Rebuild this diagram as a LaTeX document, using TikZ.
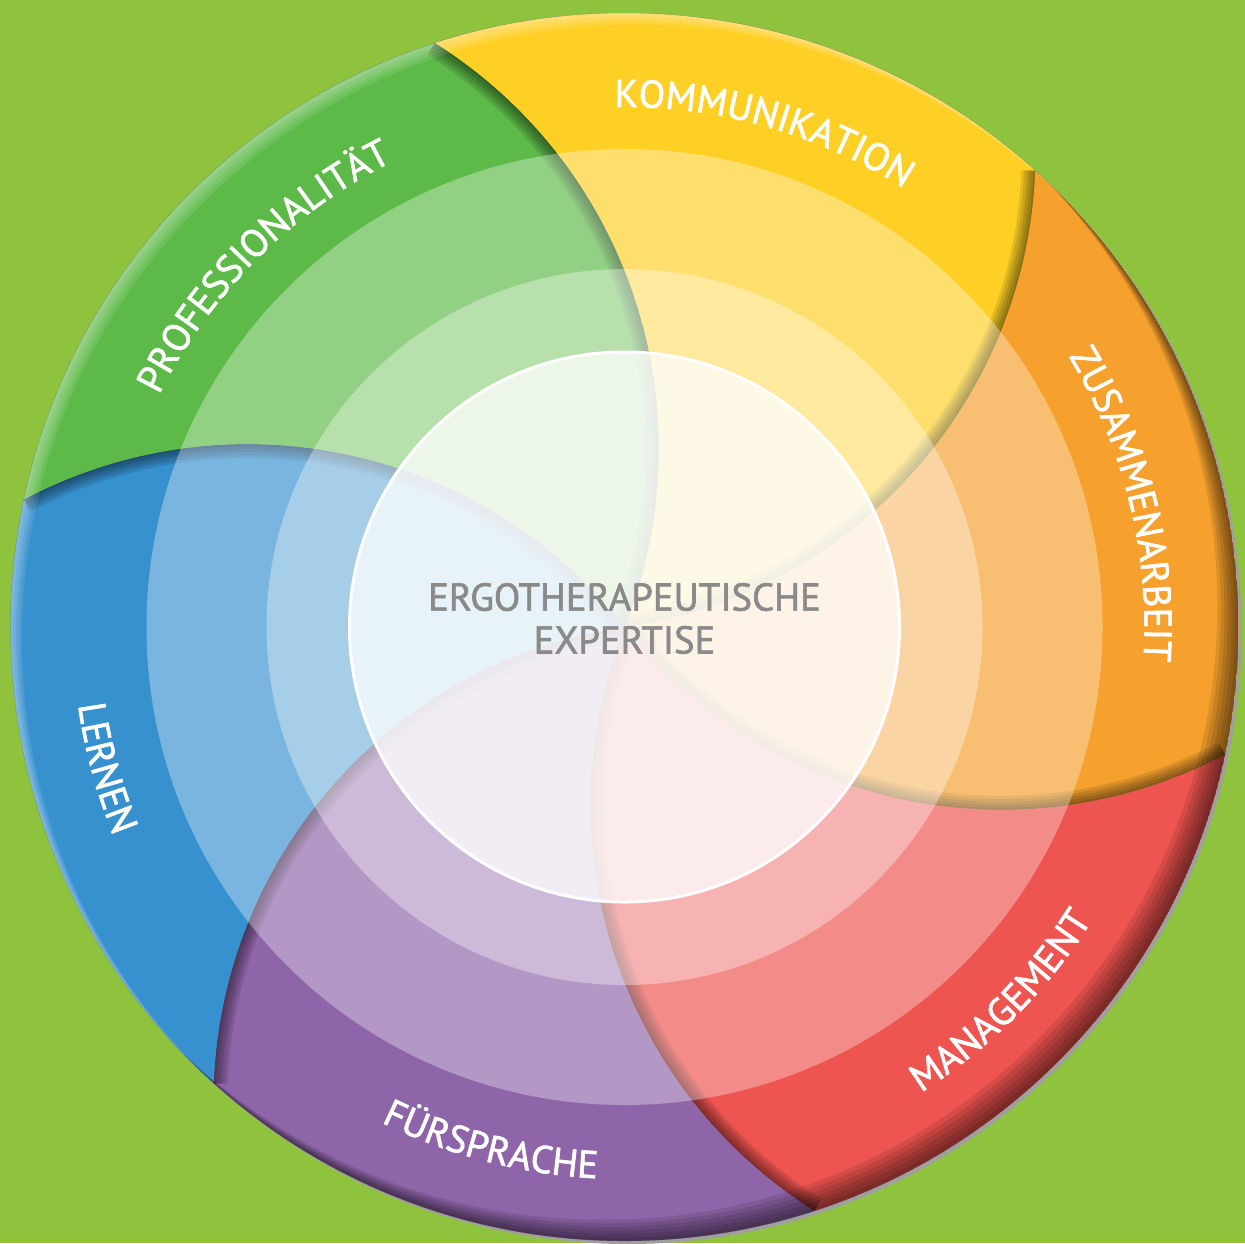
\documentclass[tikz,border=0pt]{standalone}
\usepackage{fontspec}
\setmainfont{PT Sans}
\newfontfamily\rimface{PT Sans}[FakeBold=1.6]
\usepackage{tikz}
\usetikzlibrary{decorations.text,calc}
\definecolor{etbg}{RGB}{143,195,62}
\definecolor{etgreen}{RGB}{93,186,72}
\definecolor{etyellow}{RGB}{254,208,38}
\definecolor{etorange}{RGB}{246,161,45}
\definecolor{etred}{RGB}{238,84,80}
\definecolor{etpurple}{RGB}{143,101,169}
\definecolor{etblue}{RGB}{56,145,207}
\definecolor{etgray}{RGB}{138,138,138}
\newcommand{\rimfont}{\rimface\fontsize{11pt}{13pt}\selectfont}
\newcommand{\petalpath}{(0,0) arc[start angle=230.24, end angle=309.76, radius=4.8] arc[start angle=0, end angle=-60, radius=6.14] arc[start angle=249.76, end angle=170.24, radius=4.8] -- cycle}
\newcommand{\seampath}{(0,0) arc[start angle=170.24, end angle=249.76, radius=4.8]}
\tikzstyle{veil} = [fill=white]
\tikzstyle{coretext} = [align=center, text=etgray, font=\rimface\fontsize{11pt}{12.2pt}\selectfont]
\tikzset{
  toplabel/.style={decorate, decoration={text along path, text align=center, text color=white, text={|\rimfont|#1}}},
  botlabel/.style={decorate, decoration={text along path, text align=center, text color=white, text={|\rimfont|#1}}}
}

\begin{document}
\begin{tikzpicture}
    % background
    \useasboundingbox (0,0) rectangle (12.45,12.43);
    \fill[etbg] (0,0) rectangle (12.45,12.43);

    \begin{scope}[shift={(6.245,6.16)}]
    \coordinate (hub) at (0,0);

    % disc
    \fill[gray!75] (0.03,-0.03) circle (6.14);
    \fill[black!45] (hub) circle (6.14);

    % petals with seam shadows
    \foreach \rot/\col in {108/etyellow, 48/etorange, -12/etred, -72/etpurple, -132/etblue, 168/etgreen} {
      \begin{scope}[rotate=\rot]
        \fill[\col] \petalpath;
        \begin{scope}
          \clip \petalpath;
          \foreach \w in {0.04,0.1,0.16,0.22,0.28}
            \draw[black, opacity=0.11, line width=\w cm] \seampath;
        \end{scope}
      \end{scope}
    }

    % rim bevel
    \begin{scope}
      \clip (hub) circle (6.14);
      \foreach \s in {0.05,0.1,...,0.35}
        \fill[black, opacity=0.1, even odd rule] (hub) circle (6.14) (135:\s) circle (6.14);
      \foreach \s in {0.04,0.08,0.12,0.16}
        \fill[white, opacity=0.1, even odd rule] (hub) circle (6.14) (-45:\s) circle (6.14);
    \end{scope}

    % rings
    \fill[veil, fill opacity=0.33] (hub) circle (4.78);
    \fill[veil, fill opacity=0.34] (hub) circle (3.58);
    \fill[veil, fill opacity=0.75] (hub) circle (2.75);
    \draw[white, line width=0.03cm] (hub) circle (2.75);

    % centre text
    \node[coretext] (core) at (0,0.085) {ERGOTHERAPEUTISCHE\\EXPERTISE};

    % labels, upper half
    \path[toplabel={PROFESSIONALITÄT}] (175:5.2) arc[start angle=175, end angle=95, radius=5.2];
    \path[toplabel={KOMMUNIKATION}] (114.3:5.2) arc[start angle=114.3, end angle=34.3, radius=5.2];
    \path[toplabel={ZUSAMMENARBEIT}] (53.8:5.2) arc[start angle=53.8, end angle=-26.2, radius=5.2];

    % labels, lower half
    \path[botlabel={MANAGEMENT}] (-84.8:5.52) arc[start angle=-84.8, end angle=-4.8, radius=5.52];
    \path[botlabel={FÜRSPRACHE}] (-144.5:5.52) arc[start angle=-144.5, end angle=-64.5, radius=5.52];
    \path[botlabel={LERNEN}] (155.2:5.52) arc[start angle=155.2, end angle=235.2, radius=5.52];
    \end{scope}
\end{tikzpicture}
\end{document}
